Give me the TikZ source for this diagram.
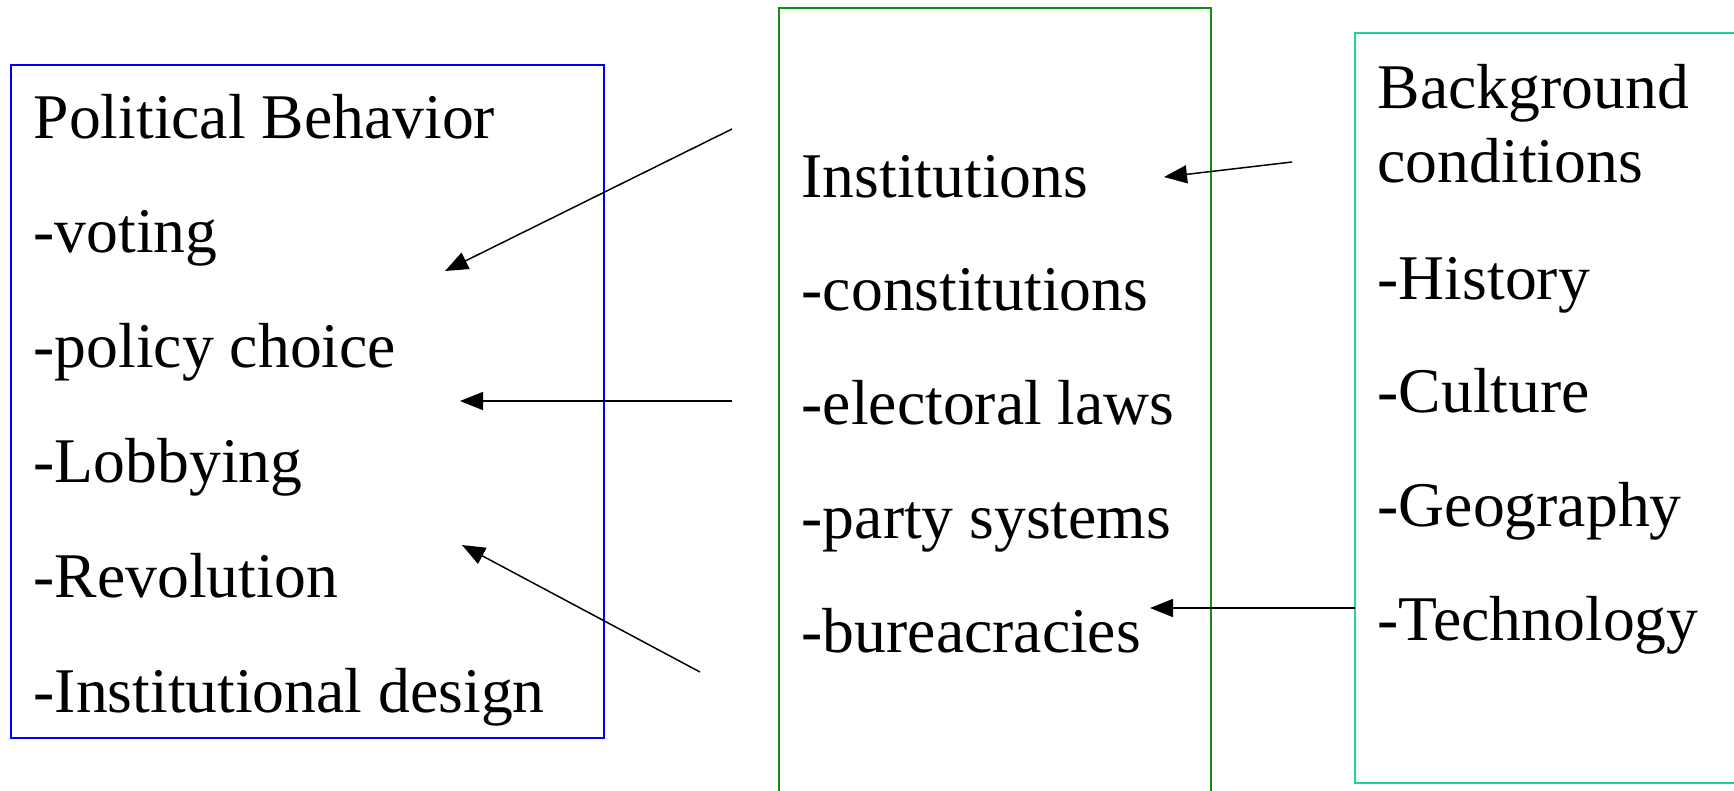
\documentclass[tikz,border=0pt]{standalone}
\usepackage{fontspec}
\setmainfont{Liberation Serif}
\usetikzlibrary{arrows.meta}
\definecolor{cBeh}{RGB}{0,0,255}
\definecolor{cInst}{RGB}{20,140,20}
\definecolor{cBack}{RGB}{30,210,160}
\begin{document}
\begin{tikzpicture}[
  x=0.01cm, y=-0.01cm,
  panel/.style={line width=0.5pt, inner sep=0pt, anchor=center},
  item/.style={font=\fontsize{18.1}{20}\selectfont, anchor=base west,
               inner sep=0pt},
  flow/.style={-{Triangle[length=2.3mm,width=1.8mm]}, line width=0.42pt},
]
\useasboundingbox (0,0) rectangle (1734,790);

% ---- the three panels -------------------------------------------------
\node[panel, draw=cBeh,  minimum width=5.93cm, minimum height=6.73cm]
  (beh)  at (307.5,401.5) {};
\node[panel, draw=cInst, minimum width=4.32cm, minimum height=7.92cm]
  (inst) at (995,404) {};
\node[panel, draw=cBack, minimum width=3.85cm, minimum height=7.50cm]
  (back) at (1547.5,408) {};

% ---- panel texts -------------------------------------------------------
\foreach \i/\t in {0/Political Behavior, 1/-voting, 2/-policy choice,
                   3/-Lobbying, 4/-Revolution, 5/-Institutional design}{
  \node[item] (beh\i) at (33,138+114.8*\i) {\t};
}
\foreach \i/\t in {0/Institutions, 1/-constitutions, 2/-electoral laws,
                   3/-party systems, 4/-bureacracies}{
  \node[item] (inst\i) at (801,197+113.8*\i) {\t};
}
\node[item] (backA) at (1377,108) {Background};
\node[item] (backB) at (1377,182) {conditions};
\foreach \i/\t in {0/-History, 1/-Culture, 2/-Geography, 3/-Technology}{
  \node[item] (back\i) at (1377,299+113.8*\i) {\t};
}

% ---- arrow ends --------------------------------------------------------
\coordinate (p1) at (732,129);  \coordinate (q1) at (445,271);
\coordinate (p2) at (732,401);  \coordinate (q2) at (460,401);
\coordinate (p3) at (700,672);  \coordinate (q3) at (462,545);
\coordinate (p4) at (1292,162); \coordinate (q4) at (1164,177);
\coordinate (p5) at (1355,608); \coordinate (q5) at (1150,608);

\draw[flow] (p1) -- (q1);
\draw[flow] (p2) -- (q2);
\draw[flow] (p3) -- (q3);
\draw[flow] (p4) -- (q4);
\draw[flow] (p5) -- (q5);

\end{tikzpicture}
\end{document}
